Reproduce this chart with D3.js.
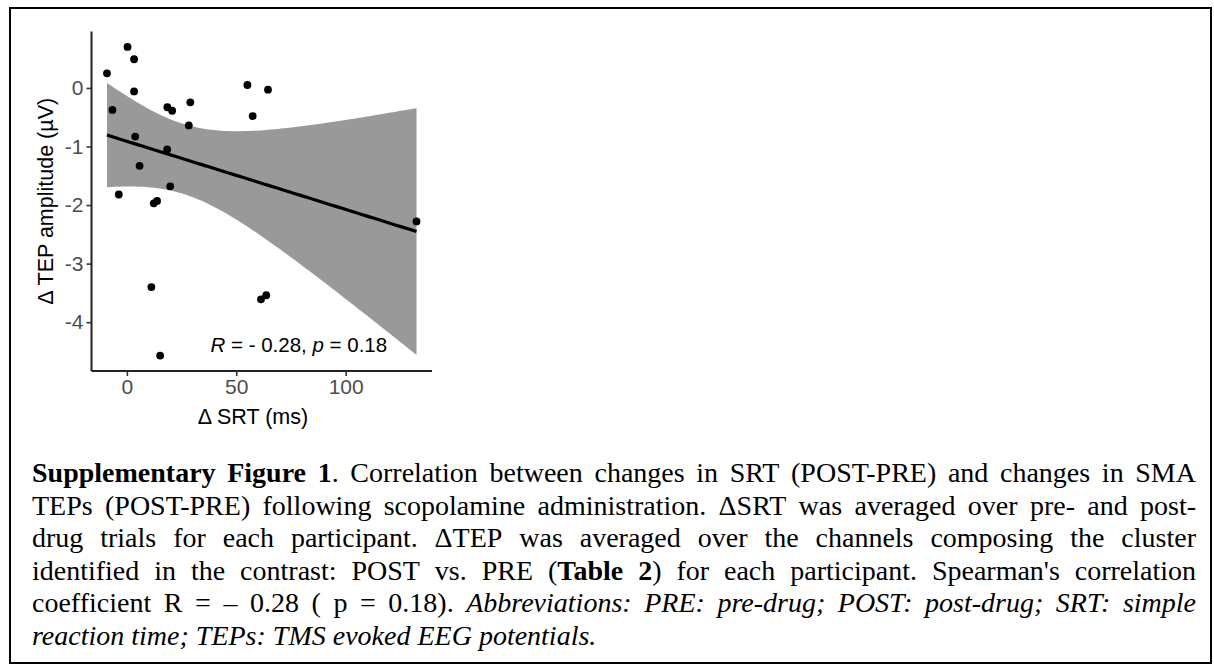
<!DOCTYPE html>
<html>
<head>
<meta charset="utf-8">
<script src="https://cdn.jsdelivr.net/npm/d3@7"></script>
<style>
  html, body { margin: 0; padding: 0; background: #fff; }
  svg { display: block; }
</style>
</head>
<body>
<svg id="fig" width="1214" height="666"></svg>
<script>
// ΔSRT (ms), one value per participant
const deltaSRT = [-9.1, 0.3, 3.3, 3.3, -6.6, 3.8, 5.8, -3.7, 18.5, 20.7, 29.0, 28.3,
                  18.4, 19.8, 12.3, 13.8, 11.2, 55.1, 64.5, 57.5, 61.3, 63.7, 132.4, 15.2];
// ΔTEP amplitude (µV), same participant order
const deltaTEP = [0.25, 0.70, 0.49, -0.06, -0.375, -0.83, -1.33, -1.82, -0.33, -0.39, -0.245, -0.64,
                  -1.05, -1.68, -1.97, -1.93, -3.40, 0.05, -0.03, -0.48, -3.61, -3.54, -2.28, -4.57];
const xTicks = [0, 50, 100];
const yTicks = [-4, -3, -2, -1, 0];
const corrR = "- 0.28";
const corrP = "0.18";
const tCrit = 2.074; // two-sided 95% t quantile for n - 2 = 22 df

const SANS = "'Liberation Sans', Arial, Helvetica, sans-serif";
const SERIF = "'Liberation Serif', 'Times New Roman', Times, serif";

const svg = d3.select("#fig");

// frame
svg.append("rect")
  .attr("x", 10).attr("y", 8).attr("width", 1201).attr("height", 655)
  .attr("fill", "none").attr("stroke", "#000").attr("stroke-width", 2);

// ---- scatter panel ----
const panel = { left: 91.5, right: 432, top: 31.5, bottom: 371 };
const pad = (ext) => { const d = (ext[1] - ext[0]) * 0.05; return [ext[0] - d, ext[1] + d]; };

const x = d3.scaleLinear().domain(pad(d3.extent(deltaSRT))).range([panel.left, panel.right]);
const y = d3.scaleLinear().domain(pad(d3.extent(deltaTEP))).range([panel.bottom, panel.top]);

// least-squares fit with 95% confidence band
const n = deltaSRT.length;
const mx = d3.mean(deltaSRT), my = d3.mean(deltaTEP);
let sxx = 0, sxy = 0;
for (let i = 0; i < n; i++) {
  sxx += (deltaSRT[i] - mx) ** 2;
  sxy += (deltaSRT[i] - mx) * (deltaTEP[i] - my);
}
const slope = sxy / sxx, intercept = my - slope * mx;
let sse = 0;
for (let i = 0; i < n; i++) sse += (deltaTEP[i] - (intercept + slope * deltaSRT[i])) ** 2;
const sRes = Math.sqrt(sse / (n - 2));
const [xMin, xMax] = d3.extent(deltaSRT);
const fit = d3.range(80).map(k => {
  const xv = xMin + (xMax - xMin) * k / 79;
  const yv = intercept + slope * xv;
  const se = sRes * Math.sqrt(1 / n + (xv - mx) ** 2 / sxx);
  return { x: xv, y: yv, lo: yv - tCrit * se, hi: yv + tCrit * se };
});

svg.append("path")
  .datum(fit)
  .attr("fill", "#999999")
  .attr("d", d3.area().x(d => x(d.x)).y0(d => y(d.lo)).y1(d => y(d.hi)));

svg.append("path")
  .datum(fit)
  .attr("fill", "none").attr("stroke", "#000").attr("stroke-width", 3.2)
  .attr("d", d3.line().x(d => x(d.x)).y(d => y(d.y)));

svg.append("g").selectAll("circle")
  .data(deltaSRT.map((v, i) => [v, deltaTEP[i]]))
  .join("circle")
  .attr("cx", d => x(d[0])).attr("cy", d => y(d[1])).attr("r", 3.9)
  .attr("fill", "#000");

// axes (plain hyphen-minus labels, integer format)
const fmt = d => String(d);
const xAxis = svg.append("g")
  .attr("transform", `translate(0,${panel.bottom})`)
  .call(d3.axisBottom(x).tickValues(xTicks).tickFormat(fmt).tickSize(5).tickSizeOuter(0).tickPadding(3));
const yAxis = svg.append("g")
  .attr("transform", `translate(${panel.left},0)`)
  .call(d3.axisLeft(y).tickValues(yTicks).tickFormat(fmt).tickSize(5).tickSizeOuter(0).tickPadding(3));

[xAxis, yAxis].forEach(g => {
  g.select(".domain").attr("stroke", "#222").attr("stroke-width", 2);
  g.selectAll(".tick line").attr("stroke", "#333").attr("stroke-width", 1.6);
  g.selectAll(".tick text").attr("fill", "#4d4d4d")
    .style("font-family", SANS).style("font-size", "21px");
});
// domain path covers the whole panel edge
xAxis.select(".domain").attr("d", `M${panel.left},0H${panel.right}`);
yAxis.select(".domain").attr("d", `M0,${panel.bottom}V${panel.top}`);

// axis titles
svg.append("text")
  .attr("x", 253).attr("y", 424)
  .attr("text-anchor", "middle")
  .style("font-family", SANS).style("font-size", "21.5px").attr("fill", "#000")
  .text("Δ SRT (ms)");

svg.append("text")
  .attr("transform", `translate(53,${(panel.top + panel.bottom) / 2}) rotate(-90)`)
  .attr("text-anchor", "middle")
  .style("font-family", SANS).style("font-size", "21.5px").attr("fill", "#000")
  .text("Δ TEP amplitude (µV)");

// correlation annotation
const ann = svg.append("text")
  .attr("x", 210.5).attr("y", 351.5)
  .style("font-family", SANS).style("font-size", "20.5px").attr("fill", "#000");
ann.append("tspan").style("font-style", "italic").text("R");
ann.append("tspan").text(` = ${corrR}, `);
ann.append("tspan").style("font-style", "italic").text("p");
ann.append("tspan").text(` = ${corrP}`);

// ---- caption (justified) ----
const captionLines = [
  [["Supplementary Figure 1", "b"], [". Correlation between changes in SRT (POST-PRE) and changes in SMA", "n"]],
  [["TEPs (POST-PRE) following scopolamine administration. ΔSRT was averaged over pre- and post-", "n"]],
  [["drug trials for each participant. ΔTEP was averaged over the channels composing the cluster", "n"]],
  [["identified in the contrast: POST vs. PRE (", "n"], ["Table 2", "b"], [") for each participant. Spearman's correlation", "n"]],
  [["coefficient R = – 0.28 ( p = 0.18). ", "n"], ["Abbreviations: PRE: pre-drug; POST: post-drug; SRT: simple", "i"]],
  [["reaction time; TEPs: TMS evoked EEG potentials.", "i"]]
];
const capLeft = 32, capRight = 1196, capTop = 482, capStep = 32.6, capSize = 28;

const capG = svg.append("g")
  .style("font-family", SERIF).style("font-size", capSize + "px").attr("fill", "#000");

captionLines.forEach((segs, li) => {
  // split styled segments into words, keeping style runs
  const words = [];
  let cur = [];
  segs.forEach(([txt, st]) => {
    const parts = txt.split(" ");
    parts.forEach((p, k) => {
      if (k > 0) { if (cur.length) words.push(cur); cur = []; }
      if (p.length) cur.push([p, st]);
    });
  });
  if (cur.length) words.push(cur);

  const baseY = capTop + li * capStep;
  const nodes = words.map(w => {
    const t = capG.append("text").attr("y", baseY);
    w.forEach(([txt, st]) => {
      const ts = t.append("tspan").text(txt);
      if (st === "b") ts.style("font-weight", "bold");
      if (st === "i") ts.style("font-style", "italic");
    });
    return t;
  });
  const widths = nodes.map(t => t.node().getComputedTextLength());
  const total = d3.sum(widths);
  const last = li === captionLines.length - 1;
  const gap = last ? capSize * 0.25 : (capRight - capLeft - total) / (words.length - 1);
  let cx = capLeft;
  nodes.forEach((t, k) => { t.attr("x", cx); cx += widths[k] + gap; });
});
</script>
</body>
</html>
